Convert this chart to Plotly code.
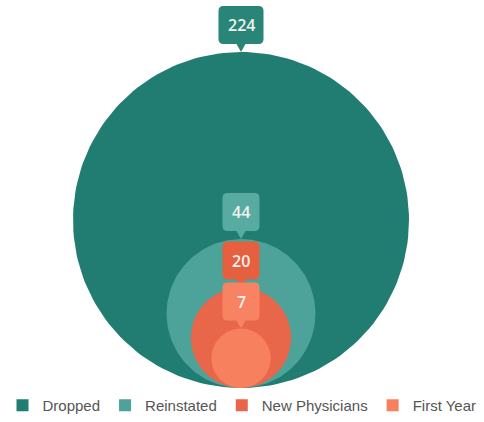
import math
import plotly.graph_objects as go

categories = ["Dropped", "Reinstated", "New Physicians", "First Year"]
values = [224, 44, 20, 7]
colors = ["#217c72", "#4da39a", "#e8664a", "#f7805f"]
label_colors = ["#288577", "#58aba1", "#e6603f", "#f88363"]

W, H = 484, 422
cx, base_y, r_max = 241, 388, 168
vmax = max(values)

fig = go.Figure()
shapes = []
annotations = []

def radius(v):
    return r_max * math.sqrt(v / vmax)

# circles, bottom-aligned, area proportional to value
for cat, v, col in zip(categories, values, colors):
    r = radius(v)
    cy = base_y - r
    n = 180
    xs = [cx + r * math.cos(2 * math.pi * i / n) for i in range(n + 1)]
    ys = [cy + r * math.sin(2 * math.pi * i / n) for i in range(n + 1)]
    fig.add_trace(go.Scatter(x=xs, y=ys, fill="toself", fillcolor=col, mode="lines",
                             line=dict(width=0, color=col), showlegend=False,
                             hoverinfo="skip"))

# callouts
for v, col in zip(values, label_colors):
    r = radius(v)
    tip = base_y - 2 * r
    txt = str(v)
    bw = 45 if len(txt) >= 3 else 37
    bh = 38
    ph = 8
    pw = 9
    bot = tip - ph
    top = bot - bh
    left = cx - bw / 2
    right = cx + bw / 2
    c = 5
    path = (f"M {left + c},{top} L {right - c},{top} Q {right},{top} {right},{top + c} "
            f"L {right},{bot - c} Q {right},{bot} {right - c},{bot} "
            f"L {cx + pw / 2},{bot} L {cx},{tip} L {cx - pw / 2},{bot} "
            f"L {left + c},{bot} Q {left},{bot} {left},{bot - c} "
            f"L {left},{top + c} Q {left},{top} {left + c},{top} Z")
    shapes.append(dict(type="path", path=path, xref="x", yref="y",
                       fillcolor=col, line=dict(width=0), layer="above"))
    annotations.append(dict(x=cx, y=(top + bot) / 2, xref="x", yref="y", text=txt,
                            showarrow=False,
                            font=dict(family="Open Sans", size=16, color="#f2f2ee",
                                      weight=600)))

# legend entries
for cat, col in zip(categories, colors):
    fig.add_trace(go.Scatter(x=[None], y=[None], mode="markers", name=cat,
                             marker=dict(symbol="square", size=13, color=col)))

fig.update_layout(
    width=W, height=H,
    margin=dict(l=0, r=0, t=0, b=0),
    paper_bgcolor="white", plot_bgcolor="white",
    xaxis=dict(range=[0, W], visible=False, fixedrange=True),
    yaxis=dict(range=[H, 0], visible=False, fixedrange=True),
    shapes=shapes, annotations=annotations,
    showlegend=True,
    legend=dict(orientation="h", x=0.5, xanchor="center", y=0, yanchor="bottom",
                font=dict(family="Liberation Sans", size=15, color="#555555"),
                itemsizing="constant", tracegroupgap=0, bgcolor="rgba(0,0,0,0)"),
)

fig.write_html("out.html", post_script="document.body.style.margin='0';",
               config={"displayModeBar": False})
